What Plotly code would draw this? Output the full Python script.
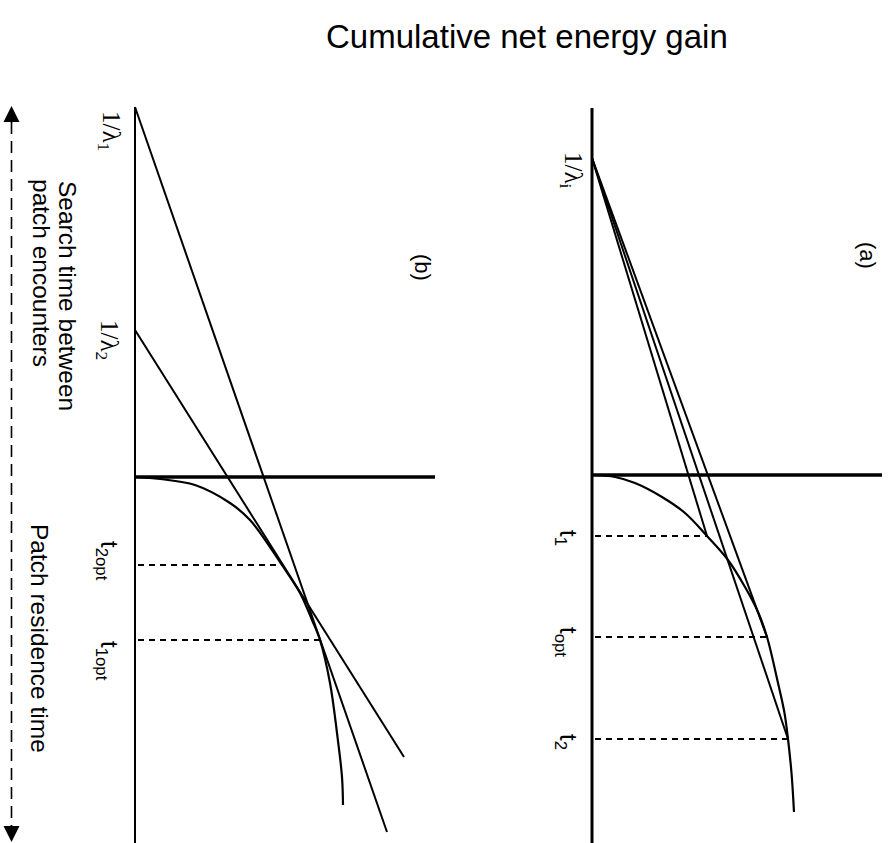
import plotly.graph_objects as go

W, H = 892, 843

# ---------------- data (time t, gain g) ----------------
# Panel (b): two habitats with different travel times
b_search_times = [3.70, 1.47]            # 1/lambda1, 1/lambda2
b_curve_t = [0.00, 0.02, 0.08, 0.26, 0.43, 0.70, 0.88, 1.16, 1.43, 1.63, 2.06, 2.56, 3.00, 3.28]
b_curve_g = [0.00, 0.25, 0.60, 0.95, 1.15, 1.35, 1.47, 1.65, 1.77, 1.85, 1.95, 2.02, 2.07, 2.08]
b_opt_t = [1.63, 0.88]                   # t1opt, t2opt
b_opt_g = [1.85, 1.47]
b_line_end_t = [3.55, 2.80]              # end of tangent lines
b_line_end_g = [2.52, 2.69]
b_gain_axis_end = 3.0
b_time_axis = [-3.70, 3.70]

# Panel (a): one habitat, three residence times
a_search_time = 3.17                     # 1/lambda_i
a_curve_t = [0.00, 0.02, 0.08, 0.22, 0.38, 0.61, 0.85, 1.12, 1.37, 1.62, 2.08, 2.38, 2.64, 2.98, 3.37]
a_curve_g = [0.00, 0.23, 0.43, 0.70, 0.93, 1.15, 1.36, 1.53, 1.66, 1.75, 1.86, 1.925, 1.96, 1.995, 2.02]
a_stop_t = [0.61, 1.62, 2.64]            # t1, topt, t2
a_stop_g = [1.15, 1.75, 1.96]
a_gain_axis_end = 2.90
a_time_axis = [-3.67, 3.70]

# labels
b_time_labels = ["t<sub>1opt</sub>", "t<sub>2opt</sub>"]
b_search_labels = ["1/λ<sub>1</sub>", "1/λ<sub>2</sub>"]
a_time_labels = ["t<sub>1</sub>", "t<sub>opt</sub>", "t<sub>2</sub>"]
a_search_label = "1/λ<sub>i</sub>"

BLACK = "#000000"
fig = go.Figure()

def add(xs, ys, axis, width=2.0, dash="solid", shape="linear"):
    xa, ya = axis
    fig.add_trace(go.Scatter(x=xs, y=ys, mode="lines", xaxis=xa, yaxis=ya,
                             line=dict(color=BLACK, width=width, dash=dash, shape=shape),
                             hoverinfo="skip", showlegend=False))

B = ("x", "y")
A = ("x2", "y2")

# panel (b)
add([0, 0], b_time_axis, B, width=2.0)
add([0, b_gain_axis_end], [0, 0], B, width=3.5)
add(b_curve_g, b_curve_t, B, width=2.2, shape="spline")
for s, et, eg in zip(b_search_times, b_line_end_t, b_line_end_g):
    add([0, eg], [-s, et], B, width=2.0)
for ot, og in zip(b_opt_t, b_opt_g):
    add([0.03, og], [ot, ot], B, width=1.8, dash="6px,5px")

# panel (a)
add([0, 0], a_time_axis, A, width=3.0)
add([0, a_gain_axis_end], [0, 0], A, width=3.5)
add(a_curve_g, a_curve_t, A, width=2.2, shape="spline")
for st, sg in zip(a_stop_t, a_stop_g):
    add([0, sg], [-a_search_time, st], A, width=2.0)
    add([0.03, sg], [st, st], A, width=1.8, dash="6px,5px")

def px(x):
    return x / W

def py(y):
    return 1 - y / H

axis_common = dict(visible=False, showgrid=False, zeroline=False, fixedrange=True)
fig.update_layout(
    width=W, height=H,
    margin=dict(l=0, r=0, t=0, b=0),
    paper_bgcolor="white", plot_bgcolor="white",
    showlegend=False,
    xaxis=dict(domain=[px(125), px(445)], range=[-0.10, 3.10], **axis_common),
    yaxis=dict(domain=[0, py(95)], range=[3.66, -3.82], **axis_common),
    xaxis2=dict(domain=[px(582), 1.0], range=[-0.10, 3.00], **axis_common),
    yaxis2=dict(domain=[0, py(95)], range=[3.68, -3.80], **axis_common),
)

SANS = "Liberation Sans, Arial, Helvetica, sans-serif"
SERIF = "Liberation Serif, Times New Roman, serif"

def label(text, x, y, size=22, family=SANS, angle=90):
    fig.add_annotation(text=text, x=px(x), y=py(y), xref="paper", yref="paper",
                       showarrow=False, textangle=angle, xanchor="center", yanchor="middle",
                       font=dict(family=family, size=size, color=BLACK))

# title
label("Cumulative net energy gain", 527, 37, size=33, angle=0)

# panel b labels
label(b_search_labels[0], 110, 131, size=25, family=SERIF)
label(b_search_labels[1], 108, 340, size=25, family=SERIF)
label(b_time_labels[1], 108, 561, size=24)
label(b_time_labels[0], 108, 661, size=24)
label("(b)", 423, 267, size=22)

# panel a labels
label(a_search_label, 572, 170, size=25, family=SERIF)
label(a_time_labels[0], 567, 538, size=24)
label(a_time_labels[1], 567, 642, size=24)
label(a_time_labels[2], 567, 742, size=24)
label("(a)", 868, 255, size=22)

# axis descriptions
label("Search time between", 68, 296, size=24.5)
label("patch encounters", 41, 273, size=24.5)
label("Patch residence time", 40, 638, size=24.5)

# dashed double arrow on the left
fig.add_shape(type="line", xref="paper", yref="paper",
              x0=px(11.5), x1=px(11.5), y0=py(122), y1=py(828),
              line=dict(color=BLACK, width=1.6, dash="12px,7px"))
for tip, off in ((106, 18), (842, -18)):
    fig.add_annotation(x=px(11.5), y=py(tip), xref="paper", yref="paper",
                       ax=0, ay=off, axref="pixel", ayref="pixel", text="",
                       showarrow=True, arrowhead=2, arrowsize=2.0, arrowwidth=1.6,
                       arrowcolor=BLACK)

fig.write_html("out.html", config={"displayModeBar": False},
               post_script="document.body.style.margin='0';document.body.style.overflow='hidden';")
